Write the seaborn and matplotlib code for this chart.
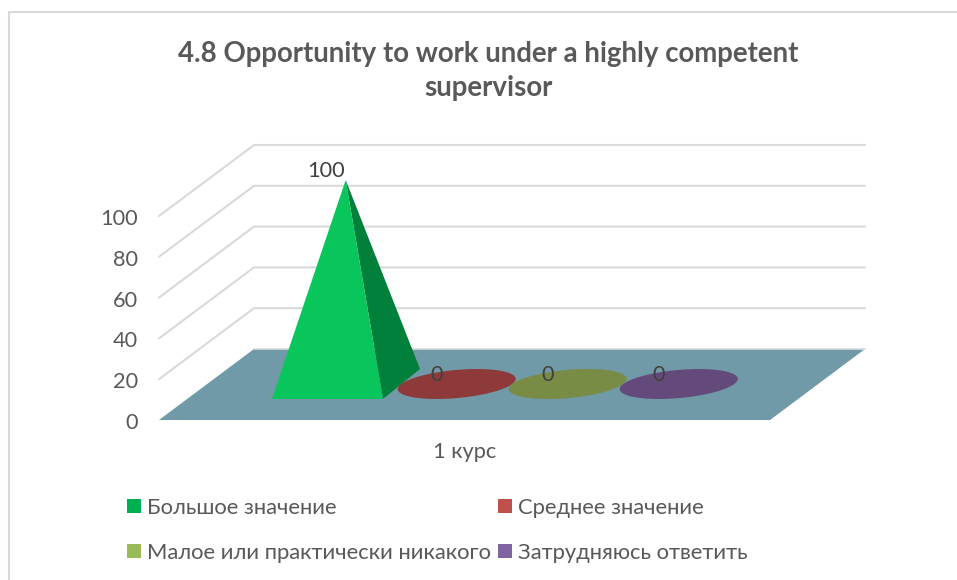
import numpy as np
import pandas as pd
import matplotlib
matplotlib.use("Agg")
import matplotlib.pyplot as plt
from matplotlib.lines import Line2D
import seaborn as sns

TITLE = "4.8 Opportunity to work under a highly competent\nsupervisor"
CATEGORY = "1 курс"
SERIES = ["Большое значение", "Среднее значение", "Малое или практически никакого", "Затрудняюсь ответить"]
VALUES = [100, 0, 0, 0]
TICKS = [0, 20, 40, 60, 80, 100]
LEGEND_COLORS = ["#00B050", "#C0504D", "#9BBB59", "#8064A2"]
BASE_COLORS = ["#08C55C", "#8F3A3A", "#788C45", "#644A7A"]
SIDE_COLOR = "#00803A"

sns.set_theme(style="white")
plt.rcParams['font.family'] = ['Lato', 'Noto Sans', 'DejaVu Sans']

fig = plt.figure(figsize=(9.57, 5.8), dpi=100)
ax = fig.add_axes([0, 0, 1, 1])
ax.set_xlim(0, 957)
ax.set_ylim(580, 0)
ax.axis("off")

# oblique projection: u along the floor width, w in depth, z = value
def proj(u, w, z=0.0):
    return (159 + 611 * np.asarray(u) + 95 * np.asarray(w),
            420 - 71 * np.asarray(w) - 2.04 * np.asarray(z))

# chart frame: only the left and top edges are in the picture
ax.plot([9, 9, 957], [580, 12, 12], color="#D9D9D9", lw=1.5, zorder=1)

# gridlines
rows = []
for t in TICKS[1:]:
    for u, w in [(0, 0), (0, 1), (1, 1)]:
        x, y = proj(u, w, t)
        rows.append({"tick": t, "x": float(x), "y": float(y)})
grid = pd.DataFrame(rows)
sns.lineplot(data=grid, x="x", y="y", units="tick", estimator=None, sort=False,
             color="#D9D9D9", lw=1.5, ax=ax, legend=False, zorder=2)
ax.set_xlabel(""); ax.set_ylabel("")

# floor
fx, fy = proj([0, 0, 1, 1], [0, 1, 1, 0])
ax.fill(fx, fy, color="#709AA8", lw=0, zorder=3)
x0, y0 = proj([0, 1], [1, 1])
ax.plot(x0, y0, color="#D9D9D9", lw=1.2, zorder=3)

# marks
DU, W0, W1 = 0.1817, 0.296, 0.718
tops = []
for i, (val, col) in enumerate(zip(VALUES, BASE_COLORS)):
    cu = 0.2267 + DU * i
    cw = (W0 + W1) / 2
    if val > 0:
        fl = proj(cu + 0.003 - DU / 2, W0)
        fr = proj(cu + 0.003 + DU / 2, W0)
        br = proj(cu - 0.002 + DU / 2, W1)
        apex = proj(cu, cw, val)
        ax.fill(*zip(fr, br, apex), color=SIDE_COLOR, lw=0, zorder=5)
        ax.fill(*zip(fl, fr, apex), color=col, lw=0, zorder=6)
        tops.append(apex)
    else:
        t = np.linspace(0, 2 * np.pi, 200)
        ex, ey = proj(cu + DU / 2 * np.cos(t), cw + (W1 - W0) / 2 * np.sin(t))
        ax.fill(ex, ey, color=col, lw=0, zorder=5)
        tops.append(proj(cu, cw))

for (tx, ty), val in zip(tops, VALUES):
    ax.text(tx - 20, ty - 9, str(val), ha="center", va="center", fontsize=15.7,
            color="#404040", zorder=8)

# value axis labels
for t in TICKS:
    _, y = proj(0, 0, t)
    ax.text(138, y + 3, str(t), ha="right", va="center", fontsize=15.7, color="#595959")

ax.text(465, 452, CATEGORY, ha="center", va="center", fontsize=15.7, color="#595959")
ax.text(488, 71, TITLE, ha="center", va="center", fontsize=19.9, fontweight="bold",
        color="#595959", linespacing=1.4)

order = [0, 2, 1, 3]
handles = [Line2D([], [], ls="none", marker="s", ms=10.5, mew=0, color=LEGEND_COLORS[i]) for i in order]
labels = [SERIES[i] for i in order]
leg = ax.legend(handles, labels, ncol=2, loc="upper left", bbox_to_anchor=(124, 498),
                bbox_transform=ax.transData, frameon=False, fontsize=15.85, labelcolor="#595959",
                labelspacing=1.13, columnspacing=0.18, handlelength=0.9, handletextpad=0.14,
                borderpad=0, borderaxespad=0)

fig.savefig("out.png", dpi=100)
